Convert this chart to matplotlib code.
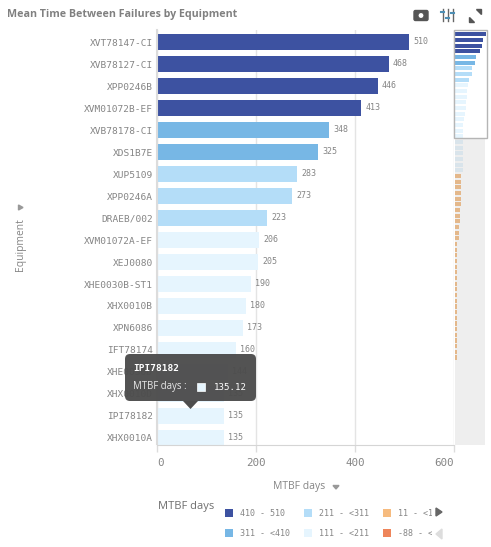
import matplotlib
matplotlib.use("Agg")
import matplotlib.pyplot as plt
from matplotlib.colors import to_rgb
from matplotlib.patches import FancyBboxPatch, Polygon, Rectangle

# ---------------- data ----------------
equipment = ["XVT78147-CI", "XVB78127-CI", "XPP0246B", "XVM01072B-EF", "XVB78178-CI",
             "XDS1B7E", "XUP5109", "XPP0246A", "DRAEB/002", "XVM01072A-EF", "XEJ0080",
             "XHE0030B-ST1", "XHX0010B", "XPN6086", "IFT78174", "XHE0030D", "XHX0010D",
             "IPI78182", "XHX0010A"]
mtbf = [510, 468, 446, 413, 348, 325, 283, 273, 223, 206, 205, 190, 180, 173, 160,
        144, 135, 135, 135]
# bars only visible in the mini chart on the right (estimated)
mtbf_rest = [131, 130, 129, 128, 126, 125,
             105, 104, 103, 102, 100, 98, 78, 77, 75, 73, 72, 70,
             36, 35, 35, 34, 34, 33, 33, 32, 32, 31, 31, 30, 30, 30, 29, 29, 28, 28, 27, 27, 26]

xticks = [0, 200, 400, 600]
legend_labels = ["410 - 510", "311 - <410", "211 - <311", "111 - <211", "11 - <111", "-88 - <11"]
legend_colors = ["#3d52a1", "#77b7e5", "#b4ddf8", "#e6f5fe", "#f6bb7f", "#ee855a"]
bin_edges = [410, 311, 211, 111, 11, -88]

W, H = 491, 547
GREY = "#858585"
MONO = "DejaVu Sans Mono"
SANS = "Open Sans"


def color_for(v):
    for edge, c in zip(bin_edges, legend_colors):
        if v >= edge:
            return c
    return legend_colors[-1]


def dimmed(c, amount=0.25):
    # bars outside the mini chart's window look washed with grey
    r = to_rgb(c)
    g = to_rgb("#b0b0b0")
    return tuple(a * (1 - amount) + b * amount for a, b in zip(r, g))


def add_axes_px(fig, x0, y0, x1, y1):
    return fig.add_axes([x0 / W, 1 - y1 / H, (x1 - x0) / W, (y1 - y0) / H])


fig = plt.figure(figsize=(W / 100, H / 100), dpi=100, facecolor="white")

# ---- main bars ----
ax = add_axes_px(fig, 157, 30, 454, 444.5)
ax.barh(range(len(mtbf)), mtbf, height=0.7, color=[color_for(v) for v in mtbf], zorder=2)
ax.set_xlim(0, 600)
ax.set_ylim((444.5 - 42) / 22, -12 / 22)
ax.set_yticks(range(len(equipment)), equipment, fontsize=6.8, color=GREY, family=MONO)
ax.set_xticks(xticks, [str(t) for t in xticks], fontsize=7.8, color=GREY, family=MONO)
ax.tick_params(axis="y", length=0, pad=3)
ax.tick_params(axis="x", length=4.7, width=1, color="#dcdcdc", pad=5)
labs = ax.get_xticklabels()
labs[0].set_ha("left")
labs[-1].set_ha("right")
ax.grid(axis="x", color="#e4e4e4", lw=1, zorder=0)
for s in ("top", "right"):
    ax.spines[s].set_visible(False)
ax.spines["bottom"].set_color("#d5d5d5")
ax.spines["left"].set_color("#dcdcdc")
ax.spines["left"].set_linewidth(1.5)
for i, v in enumerate(mtbf):
    ax.annotate(str(v), (v, i), xytext=(3, 0), textcoords="offset points", va="center",
                fontsize=6.0, color=GREY, family=MONO, clip_on=True, zorder=3)

# ---- mini chart ----
all_vals = mtbf + mtbf_rest
window_rows = len(mtbf)
mini_x1 = 510 * 32 / 31
mini = add_axes_px(fig, 455, 30, 487, 445)
mini.patch.set_alpha(0)
mini.set_xlim(0, mini_x1)
ybot = (445 - 34.3) / 5.67
ytop = -4.3 / 5.67
mini.set_ylim(ybot, ytop)
window_end = (138 - 34.3) / 5.67
mini.axhspan(window_end, ybot, xmin=0, xmax=30 / 32, color="#eeeeee", lw=0, zorder=0)
mini.barh(range(len(all_vals)), all_vals, height=0.72, zorder=1,
          color=[color_for(v) if i < window_rows else dimmed(color_for(v))
                 for i, v in enumerate(all_vals)])
mini.add_patch(Rectangle((-1.0 * mini_x1 / 32, ytop), mini_x1 * 33 / 32, window_end - ytop, fill=False,
                         ec="#b5b5b5", lw=1, zorder=3, clip_on=False))
mini.set_xticks([])
mini.set_yticks([])
for s in mini.spines.values():
    s.set_visible(False)

# ---- everything else, in pixel coordinates ----
ov = fig.add_axes([0, 0, 1, 1], zorder=5)
ov.set_xlim(0, W)
ov.set_ylim(H, 0)
ov.axis("off")
ov.patch.set_alpha(0)

ov.text(7, 14, "Mean Time Between Failures by Equipment", fontsize=7.65, fontweight="bold",
        color="#808080", family=SANS, va="center")
ov.text(21, 245, "Equipment", rotation=90, fontsize=7.4, color=GREY, family=SANS,
        ha="center", va="center")
ov.add_patch(Polygon([[18.5, 205], [23, 207.5], [18.5, 210]], color="#999999"))
ov.text(299, 487, "MTBF days", fontsize=7.5, color=GREY, family=SANS, ha="center", va="center")
ov.add_patch(Polygon([[333, 485.5], [339, 485.5], [336, 489]], color="#999999"))

# tooltip
ov.add_patch(FancyBboxPatch((125, 354), 131, 47, boxstyle="round,pad=0,rounding_size=5",
                            fc="#4d4d4d", ec="none", alpha=0.97))
ov.add_patch(Polygon([[183, 401], [198, 401], [190.5, 409]], color="#4d4d4d", lw=0))
ov.text(133, 368.5, "IPI78182", fontsize=6.8, fontweight="bold", color="white", family=MONO, va="center")
ov.text(133, 387, "MTBF days :", fontsize=6.9, color="#e8e8e8", family=SANS, va="center")
ov.add_patch(Rectangle((197, 383), 8, 8, fc="#e6f5fe", ec="white", lw=0.5))
ov.text(247, 387, "135.12", fontsize=6.6, color="white", family=MONO, ha="right", va="center")

# legend, the third column is cut off by the scroll arrows
ov.text(158, 506, "MTBF days", fontsize=8.0, color="#6f6f6f", family=SANS, va="center")
clip = Rectangle((225, 500), 207, 45, transform=ov.transData)
for i, (lab, c) in enumerate(zip(legend_labels, legend_colors)):
    col, row = i // 2, i % 2
    sx = [225.5, 304.5, 383.5][col]
    sy = [513, 533][row]
    ov.add_patch(Rectangle((sx, sy - 4), 8, 8, fc=c, ec="none"))
    t = ov.text(sx + 14.5, sy, lab, fontsize=6.0, color=GREY, family=MONO, va="center")
    t.set_clip_on(True)
    t.set_clip_path(clip)
ov.add_patch(Polygon([[436, 508], [442, 512], [436, 516]], color="#666666"))
ov.add_patch(Polygon([[442, 529], [436, 534], [442, 539]], color="#dddddd"))

# toolbar icons
ov.add_patch(FancyBboxPatch((414, 10.5), 14, 10, boxstyle="round,pad=0,rounding_size=1.5", fc="#555555", ec="#555555"))
ov.add_patch(plt.Circle((421, 15.5), 3, fc="white", ec="#555555", lw=0.8))
for x, yk in zip([443, 448, 453], [12, 18, 13]):
    ov.plot([x, x], [9, 21], color="#666666", lw=1)
    ov.plot([x - 1.5, x + 1.5], [yk, yk], color="#4d8fb5", lw=1.5)
ov.add_patch(Polygon([[476, 8.5], [481, 8.5], [481, 13.5]], color="#555555"))
ov.add_patch(Polygon([[469, 17], [469, 22], [474, 22]], color="#555555"))

fig.savefig("out.png", dpi=100)
